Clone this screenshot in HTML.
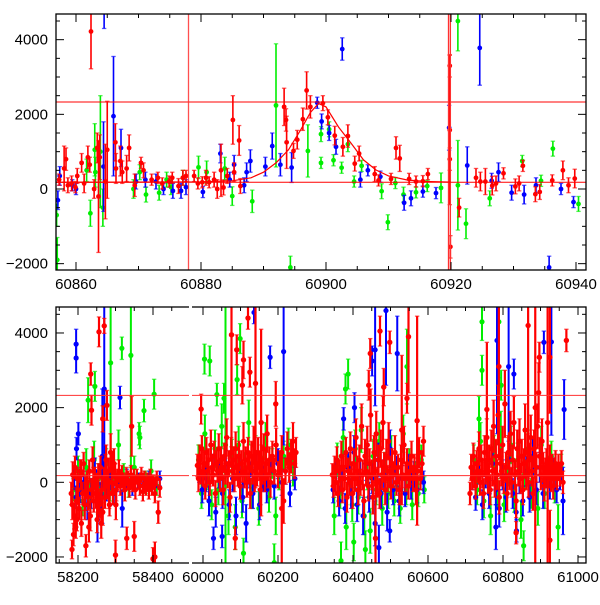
<!DOCTYPE html>
<html><head><meta charset="utf-8"><style>
html,body{margin:0;padding:0;background:#fff;}
svg text{font-family:"Liberation Sans",sans-serif;font-size:15px;fill:#000;}
</style></head><body>
<svg id="chart" width="600" height="600" viewBox="0 0 600 600" xmlns="http://www.w3.org/2000/svg">
<defs>
<clipPath id="clipTop"><rect x="56" y="14" width="530" height="256"/></clipPath>
<clipPath id="clipA"><rect x="56" y="307" width="133" height="256"/></clipPath>
<clipPath id="clipB"><rect x="192" y="307" width="394" height="256"/></clipPath>
</defs>
</svg>
<script>
// ---------------- data ----------------
const topTickX = [60860, 60880, 60900, 60920, 60940];
const tickY = [-2000, 0, 2000, 4000];
const botTickA = [58200, 58400];
const botTickB = [60000, 60200, 60400, 60600, 60800, 61000];
const refLevels = [2330, 180];
const vLines = [60878, 60919.6, 60919.9];
const curveMJD = [60856, 60880, 60885, 60888, 60890, 60892, 60894, 60896, 60897.5, 60898.8, 60900, 60902, 60904, 60906, 60908, 60910, 60913, 60916, 60920];
const curveVal = [180, 190, 220, 300, 450, 700, 1050, 1600, 2050, 2290, 2200, 1660, 1230, 780, 510, 350, 240, 200, 185];

const topRed = [[60857.3,250,150],[60858.1,550,600],[60858.4,800,300],[60858.7,100,200],[60859.3,150,200],[60859.9,50,150],[60860.2,350,200],[60860.9,700,250],[60861.3,150,250],[60861.9,850,300],[60862.2,650,200],[60862.4,4220,1000],[60862.9,0,250],[60863.4,1100,400],[60863.6,-200,1500],[60863.8,850,600],[60864.7,200,1000],[60865.0,1050,1300],[60866.3,1250,500],[60866.4,550,400],[60867.1,750,400],[60867.4,450,300],[60868.1,550,350],[60868.5,1100,350],[60869.4,100,300],[60870.4,700,150],[60870.8,500,200],[60872.1,250,150],[60873.1,300,150],[60873.8,150,150],[60874.9,200,150],[60875.4,300,150],[60876.4,80,200],[60877.1,300,200],[60877.6,350,150],[60878.9,350,150],[60879.5,150,150],[60880.2,180,150],[60880.8,300,200],[60881.3,180,150],[60882.1,250,200],[60882.6,0,250],[60883.2,500,700],[60883.6,40,200],[60884.2,350,200],[60885.1,1850,650],[60885.3,450,250],[60886.1,1300,400],[60886.3,80,200],[60893.3,2200,500],[60893.6,1850,300],[60893.7,1250,700],[60894.8,1020,200],[60895.4,1320,250],[60896.3,1870,300],[60896.9,2640,500],[60897.5,2200,300],[60899.5,2300,200],[60900.3,1920,200],[60901.4,1430,250],[60902.7,1130,250],[60903.5,1420,300],[60904.6,680,200],[60905.3,950,200],[60907.8,400,200],[60908.4,230,150],[60910.4,270,150],[60911.2,1100,300],[60911.8,820,350],[60913.3,270,150],[60914.4,200,150],[60915.5,210,150],[60916.3,400,150],[60919.8,3300,300],[60919.8,1580,2000],[60919.9,-1550,300],[60919.8,800,300],[60921.3,-500,250],[60924.0,300,250],[60924.7,200,250],[60925.5,200,350],[60926.6,90,250],[60927.2,150,200],[60928.4,420,150],[60930.3,70,200],[60930.9,150,200],[60931.5,620,150],[60933.5,-140,200],[60934.2,-80,200],[60936.2,230,150],[60937.9,500,250],[60938.8,100,200],[60939.8,280,250]];
const topBlue = [[60857.1,-300,250],[60857.4,350,250],[60859.4,100,150],[60860.0,0,150],[60864.4,600,1200],[60864.5,4800,500],[60866.0,1950,1600],[60867.2,1100,500],[60869.6,200,200],[60871.1,250,200],[60872.8,200,200],[60874.0,0,150],[60875.5,-50,200],[60876.8,-50,200],[60877.6,50,200],[60880.3,-80,150],[60883.1,950,250],[60884.6,250,200],[60885.3,650,250],[60886.9,100,200],[60887.3,450,250],[60887.9,750,300],[60890.3,600,250],[60891.4,1150,350],[60892.7,650,300],[60894.5,575,400],[60898.6,2310,150],[60899.3,1810,200],[60900.5,1500,200],[60901.6,1130,200],[60902.6,3750,300],[60905.5,250,200],[60906.7,500,150],[60908.7,330,150],[60912.5,-370,200],[60913.6,-250,200],[60915.5,-70,150],[60917.6,-110,150],[60919.7,1640,600],[60922.6,630,500],[60924.6,3780,1000],[60926.5,220,200],[60927.6,450,250],[60929.7,-100,200],[60931.7,-150,250],[60933.6,100,200],[60935.7,-2100,300],[60937.6,0,150],[60939.6,-350,150]];
const topGreen = [[60856.9,-700,300],[60857.0,-1900,600],[60861.7,500,300],[60862.3,-650,350],[60863.0,1050,700],[60863.1,450,400],[60863.9,1000,1500],[60864.3,-500,500],[60869.2,0,250],[60870.2,450,200],[60871.2,-150,200],[60873.3,-100,200],[60874.5,250,200],[60875.2,50,200],[60877.1,300,200],[60879.6,580,300],[60880.9,450,300],[60883.8,550,300],[60885.0,-190,250],[60888.2,-330,300],[60892.0,2240,1650],[60894.3,-2100,300],[60897.1,1020,700],[60899.2,1470,200],[60899.2,700,150],[60900.5,1600,200],[60901.2,770,150],[60902.5,570,150],[60903.5,1200,200],[60904.5,200,150],[60905.7,620,150],[60908.9,-60,200],[60909.9,-890,200],[60911.1,160,150],[60912.4,-150,200],[60914.4,-90,150],[60916.2,80,150],[60918.4,30,400],[60921.1,4500,800],[60921.1,100,1200],[60922.4,-930,400],[60926.2,-250,200],[60931.4,750,150],[60934.4,220,150],[60936.3,1080,200],[60940.4,-400,200]];

const botRed = [[58182,-300,300],[58184,-1800,250],[58186,200,350],[58188,-1400,300],[58190,-900,350],[58192,400,300],[58194,-1200,300],[58196,-500,350],[58198,100,300],[58200,-200,400],[58203,-700,300],[58206,300,300],[58209,-1100,350],[58212,-300,300],[58215,500,300],[58218,-600,400],[58221,-1700,300],[58224,0,300],[58227,-400,350],[58230,300,300],[58233,-900,400],[58236,-200,300],[58239,600,350],[58242,-500,300],[58245,100,300],[58248,-300,400],[58251,-1000,350],[58254,200,300],[58257,-600,350],[58260,400,300],[58263,-200,350],[58266,-800,350],[58269,100,300],[58272,-400,300],[58275,600,400],[58278,-100,350],[58281,300,350],[58284,-600,300],[58287,800,500],[58290,0,350],[58293,-300,300],[58296,500,400],[58299,200,300],[58302,-200,300],[58305,100,250],[58309,300,300],[58313,-100,250],[58317,200,250],[58321,0,250],[58325,-200,300],[58329,150,250],[58333,50,250],[58337,-150,250],[58341,200,250],[58345,-50,200],[58349,100,250],[58353,-200,250],[58357,150,200],[58361,0,200],[58365,-100,250],[58369,200,200],[58373,-250,250],[58377,100,200],[58381,-150,200],[58385,50,200],[58389,-200,250],[58393,150,200],[58397,-100,250],[58401,0,200],[58405,-300,250],[58410,100,200],[58414,-800,300],[58418,-150,250],
[58185,-600,400],[58197,-1000,300],[58208,200,400],[58219,-300,450],[58229,-1200,400],[58241,0,400],[58253,-400,450],[58262,-1100,400],[58273,300,450],[58283,-300,400],[58292,400,400],[58301,-600,400],
[58256,4030,400],[58270,4190,200],[58234,2900,300],[58236,1930,400],[58277,2060,400],[58266,1700,350],[58343,1500,800],[58300,-1950,400],[58330,-1500,300],[58350,-1450,400],[58400,-2050,300],[58405,-2000,400],
[59985,450,300],[59988,100,350],[59991,700,300],[59994,300,350],[59997,900,350],[60000,200,300],[60003,500,350],[60006,-100,350],[60009,800,400],[60012,300,350],[60015,600,300],[60018,0,350],[60021,1000,400],[60024,400,350],[60027,200,300],[60030,700,400],[60033,-300,350],[60036,500,350],[60039,300,300],[60042,900,400],[60045,100,350],[60048,600,350],[60051,400,300],[60054,-200,400],[60057,700,350],[60060,300,350],[60063,1200,500],[60066,200,350],[60069,500,350],[60072,-400,400],[60075,800,400],[60078,300,350],[60081,600,350],[60084,100,350],[60087,900,450],[60090,400,350],[60093,200,300],[60096,700,400],[60099,-100,350],[60102,500,350],[60105,300,300],[60108,1100,500],[60111,200,350],[60114,600,350],[60117,0,400],[60120,800,400],[60123,400,350],[60126,-300,400],[60129,700,400],[60132,300,350],[60135,1000,500],[60138,100,350],[60141,500,350],[60144,200,300],[60147,800,400],[60150,400,350],[60153,-200,400],[60156,600,400],[60159,300,350],[60162,900,400],[60165,100,350],[60168,500,350],[60171,1300,500],[60174,200,350],[60177,600,350],[60180,0,400],[60185,700,400],[60190,300,350],[60195,1000,450],[60200,200,350],[60205,500,350],[60210,800,450],[60215,-500,600],[60220,300,350],[60225,900,450],[60230,400,400],[60235,700,450],[60240,1100,500],[60244,500,400],[60248,800,400],
[59995,1960,400],[60076,3950,3000],[60090,3550,400],[60108,3280,500],[60105,2600,500],[60120,4400,300],[60125,2950,400],[60140,2650,2800],[60194,2100,600],[60086,-1500,300],[60155,1600,2500],[60210,-700,1500],
[60345,200,300],[60348,-100,300],[60351,400,300],[60354,0,350],[60357,600,350],[60360,-300,350],[60363,300,300],[60366,100,350],[60369,700,400],[60372,-200,350],[60375,400,350],[60378,100,300],[60381,800,400],[60384,-400,400],[60387,300,350],[60390,0,350],[60393,900,450],[60396,200,350],[60399,-300,400],[60402,500,400],[60405,100,350],[60408,1200,500],[60411,300,400],[60414,-200,400],[60417,600,400],[60420,0,350],[60423,1500,600],[60426,200,400],[60429,-500,450],[60432,700,450],[60435,300,400],[60438,1000,500],[60441,-100,400],[60444,500,400],[60447,1800,700],[60450,200,400],[60453,-400,450],[60456,800,450],[60459,300,400],[60462,1300,600],[60465,0,400],[60468,600,400],[60471,-300,400],[60474,900,500],[60477,200,400],[60480,1600,700],[60483,400,400],[60486,-200,400],[60489,700,450],[60492,100,350],[60495,1100,500],[60498,300,400],[60501,-100,350],[60504,500,400],[60508,200,350],[60512,800,450],[60516,0,350],[60520,400,350],[60524,-200,400],[60528,600,400],[60532,200,350],[60536,1000,500],[60540,100,350],[60544,500,400],[60548,-100,350],[60552,300,350],[60556,700,400],[60560,100,350],[60564,400,350],[60568,-200,400],[60572,300,350],[60576,800,400],[60580,100,300],[60584,500,350],[60588,1100,400],
[60446,3450,400],[60472,4050,400],[60498,3750,300],[60548,3900,1500],[60544,2250,400],[60442,2600,400],[60482,2550,500],[60571,1650,2800],[60460,-1500,1500],[60530,1400,2000],
[60712,-300,300],[60715,400,350],[60718,100,300],[60721,700,350],[60724,200,350],[60727,-100,350],[60730,500,350],[60733,300,300],[60736,900,450],[60739,0,350],[60742,600,400],[60745,200,350],[60748,-300,400],[60751,800,450],[60754,300,350],[60757,1200,500],[60760,100,400],[60763,600,400],[60766,-200,400],[60769,900,500],[60772,300,400],[60775,1500,700],[60778,0,400],[60781,700,450],[60784,200,400],[60787,1800,800],[60790,-400,450],[60793,500,400],[60796,300,400],[60799,1000,500],[60802,100,400],[60805,2100,900],[60808,400,400],[60811,-300,450],[60814,800,450],[60817,200,400],[60820,1300,600],[60823,0,400],[60826,600,400],[60829,1600,700],[60832,200,400],[60835,-500,450],[60838,900,500],[60841,300,400],[60844,1100,600],[60847,100,400],[60850,700,450],[60853,-200,400],[60856,500,400],[60859,1400,700],[60862,200,400],[60865,800,500],[60868,0,400],[60871,600,450],[60874,1200,600],[60877,300,400],[60880,-300,450],[60883,900,500],[60886,2000,4500],[60889,400,400],[60892,1500,600],[60895,2400,800],[60898,700,500],[60901,200,400],[60904,1100,600],[60907,400,400],[60910,-100,400],[60913,300,350],[60916,500,400],[60919,1600,4000],[60922,200,350],[60925,600,400],[60928,100,350],[60931,400,350],[60934,-100,350],[60937,300,350],[60940,500,350],[60944,100,300],[60948,400,350],[60952,200,300],[60956,500,350],[60960,0,300],
[60789,3100,2500],[60867,4200,3500],[60897,3350,400],[60925,3350,1500],[60925,-1550,800],[60969,3800,300],[60757,1950,1800],[60835,-1350,300]];
const botBlue = [[58190,100,300],[58195,-400,300],[58205,-200,350],[58215,0,300],[58225,-600,400],[58235,-300,400],[58245,300,350],[58252,-1000,600],[58260,-400,400],[58268,200,350],[58276,-200,300],[58285,100,300],[58295,-300,300],[58305,0,250],[58318,-700,500],[58330,100,250],[58345,-100,250],[58360,50,200],[58375,-50,200],[58390,100,200],[58405,-100,200],[58418,100,200],
[58195,3330,400],[58195,3700,400],[58201,1300,300],[58196,900,300],[58312,2270,300],[58265,700,1800],[58270,2500,2500],
[59990,300,300],[59998,-200,350],[60008,100,350],[60016,-500,400],[60025,400,350],[60034,-800,400],[60043,200,350],[60052,-300,400],[60061,500,350],[60070,-600,400],[60079,100,350],[60088,-900,500],[60097,300,350],[60106,-400,400],[60115,-1100,500],[60124,200,350],[60133,-300,400],[60142,400,350],[60151,-600,400],[60160,100,350],[60170,-200,350],[60180,300,350],[60190,-100,350],[60200,500,400],[60210,0,350],[60220,300,350],[60232,-300,350],[60245,100,300],
[60028,-1500,300],[60051,-1450,300],[60136,4550,300],[60179,3350,300],[60215,3500,2500],
[60347,-200,350],[60355,300,350],[60363,-500,400],[60371,100,350],[60379,-700,400],[60387,400,400],[60395,-300,400],[60403,800,450],[60411,-600,450],[60419,200,400],[60427,-900,500],[60435,500,450],[60443,-400,400],[60451,100,400],[60459,-1100,600],[60467,600,450],[60475,-300,400],[60483,200,400],[60491,-800,500],[60499,900,500],[60507,-200,400],[60515,300,400],[60523,-500,400],[60531,100,350],[60539,-300,350],[60547,400,350],[60555,-100,350],[60563,200,350],[60571,-200,350],[60580,100,300],[60588,0,300],
[60451,3250,400],[60459,3550,1500],[60488,4600,2000],[60518,3450,1000],[60375,1700,300],[60404,2000,400],[60469,-1750,600],[60498,-1300,300],
[60718,100,300],[60727,-400,350],[60736,300,350],[60745,-600,400],[60754,200,350],[60763,-300,400],[60772,500,450],[60781,-200,400],[60790,-700,500],[60799,200,400],[60808,-400,400],[60817,600,450],[60826,-300,400],[60835,-800,500],[60844,100,400],[60853,-500,400],[60862,300,400],[60871,-400,400],[60880,700,500],[60889,-200,400],[60898,400,400],[60907,-300,400],[60916,200,350],[60925,-100,350],[60934,300,350],[60943,-200,350],[60952,100,300],[60960,-500,900],
[60784,3800,2500],[60815,3100,2000],[60829,2900,400],[60909,3750,300],[60929,3760,2500],[60963,1950,800],[60781,-1200,600],[60836,-1300,300]];
const botGreen = [[58188,-200,300],[58200,300,400],[58212,-500,400],[58222,400,500],[58232,-300,400],[58243,600,500],[58255,100,400],[58265,-300,400],[58275,500,400],[58285,-200,300],[58295,300,300],[58308,1000,400],[58322,200,300],[58335,-100,300],[58350,400,300],[58365,1200,300],[58380,0,300],[58395,300,300],[58410,-100,250],
[58227,2200,600],[58245,2570,400],[58317,3590,300],[58341,3400,3000],[58376,1920,300],[58403,2360,400],[58363,1300,300],[58287,3200,3300],
[59988,600,400],[59996,-300,400],[60005,1300,500],[60014,200,400],[60023,-600,400],[60032,900,500],[60041,-200,400],[60050,1500,600],[60059,300,400],[60068,-900,500],[60077,700,450],[60086,-1200,600],[60095,1000,500],[60104,-500,450],[60113,400,400],[60122,1600,600],[60131,-300,400],[60140,800,450],[60149,-700,450],[60158,300,400],[60167,1100,500],[60176,-400,400],[60185,500,400],[60194,-900,500],[60203,200,400],[60215,700,400],[60228,1000,450],[60240,300,400],
[60004,3300,400],[60018,3250,400],[60037,2350,300],[60056,2250,400],[60091,2750,400],[60099,3850,400],[60108,-1900,400],[60190,-2150,500],[60060,1000,3700],
[60350,-900,500],[60358,600,450],[60366,-300,400],[60374,1200,500],[60382,-1200,600],[60390,300,400],[60398,-600,450],[60406,900,500],[60414,-400,450],[60422,1400,600],[60430,-900,500],[60438,200,400],[60446,-1300,600],[60454,700,450],[60462,-200,400],[60470,1100,500],[60478,-700,450],[60486,400,400],[60494,-300,400],[60502,800,450],[60510,-500,400],[60518,200,400],[60526,-700,400],[60534,1300,500],[60542,-200,400],[60550,500,400],[60558,-600,400],[60566,200,350],[60574,-300,350],[60582,600,400],[60590,-200,350],
[60387,2900,400],[60380,2500,400],[60368,-2100,500],[60402,-1600,500],[60433,-1800,500],[60544,3100,1000],
[60722,600,400],[60731,-200,400],[60740,1100,500],[60749,-500,450],[60758,400,400],[60767,-900,500],[60776,800,450],[60785,-300,400],[60794,1300,600],[60803,-600,450],[60812,300,400],[60821,1000,500],[60830,-400,400],[60839,600,450],[60848,-1000,500],[60857,200,400],[60866,900,500],[60875,-300,400],[60884,500,400],[60893,-700,450],[60902,1000,500],[60911,-300,400],[60920,300,400],[60929,700,400],[60938,-200,350],[60947,-1200,600],[60955,400,350],
[60744,4300,500],[60744,3000,400],[60736,1700,600],[60789,4300,1500],[60795,2600,400],[60855,-1700,400]];

// ---------------- axes ----------------
const NS = 'http://www.w3.org/2000/svg';
const svg = document.getElementById('chart');
function el(tag, attrs, parent) {
  const e = document.createElementNS(NS, tag);
  for (const k in attrs) e.setAttribute(k, attrs[k]);
  (parent || svg).appendChild(e);
  return e;
}
const yTop = v => 189 - v * 0.03733;
const yBot = v => 482.3 - v * 0.03733;
const xTop = m => 56 + (m - 60856.8) * 6.25;
const xBot = m => m < 59000 ? 78 + (m - 58200) * 0.375 : 203 + (m - 60000) * 0.375;

function drawSeries(data, color, xf, yf, g, nm, w, r) {
  data.forEach(d => {
    const x = xf(d[0]), y = yf(d[1]), y1 = yf(d[1] + d[2]), y2 = yf(d[1] - d[2]);
    const grp = el('g', {}, g);
    
    
    el('line', {x1:x, x2:x, y1:y1, y2:y2, stroke:color, 'stroke-width':w}, grp);
    el('line', {x1:x-2.2, x2:x+2.2, y1:y1, y2:y1, stroke:color, 'stroke-width':1.3, 'stroke-opacity':0.65}, grp);
    el('line', {x1:x-2.2, x2:x+2.2, y1:y2, y2:y2, stroke:color, 'stroke-width':1.3, 'stroke-opacity':0.65}, grp);
    el('circle', {cx:x, cy:y, r:r, fill:color}, grp);
  });
}

// top panel
const gTop = el('g', {'clip-path':'url(#clipTop)'});


drawSeries(topGreen, '#00ee00', xTop, yTop, gTop, 'green-point', 1.6, 2.4);
drawSeries(topBlue, '#0000ff', xTop, yTop, gTop, 'blue-point', 1.6, 2.4);
drawSeries(topRed, '#ff0000', xTop, yTop, gTop, 'red-point', 1.6, 2.4);
refLevels.forEach(v => {
  const l = el('line', {x1:56, x2:586, y1:yTop(v), y2:yTop(v), stroke:'#ff0000', 'stroke-width':1}, gTop);
  
  
});
vLines.forEach((m, i) => {
  const l = el('line', {x1:xTop(m), x2:xTop(m), y1:14, y2:270, stroke:'#ff3030', 'stroke-width':1.3, 'stroke-opacity':i === 0 ? 0.85 : 1}, gTop);
  
  
});
let pts = curveMJD.map((m, i) => xTop(m).toFixed(1) + ',' + yTop(curveVal[i]).toFixed(1)).join(' ');
const curve = el('polyline', {points:pts, fill:'none', stroke:'#ff0000', 'stroke-width':1.2}, gTop);



// bottom panel
const gA = el('g', {'clip-path':'url(#clipA)'});


const gB = el('g', {'clip-path':'url(#clipB)'});


[gA, gB].forEach(g => {
  drawSeries(botGreen, '#00ee00', xBot, yBot, g, 'green-point', 2, 2.6);
  drawSeries(botBlue, '#0000ff', xBot, yBot, g, 'blue-point', 2, 2.6);
  drawSeries(botRed, '#ff0000', xBot, yBot, g, 'red-point', 2.2, 2.7);
  refLevels.forEach(v => {
    const l = el('line', {x1:56, x2:586, y1:yBot(v), y2:yBot(v), stroke:'#ff3030', 'stroke-width':1}, g);
    
    
  });
});

// frames & ticks
function frame(x0, x1, y0, y1, nm) {
  const r = el('rect', {x:x0, y:y0, width:x1-x0, height:y1-y0, fill:'none', stroke:'#000', 'stroke-width':1.3});
  
  
}
frame(56, 586, 14, 270, 'top-panel-frame');
frame(56, 586, 307, 563, 'bottom-panel-frame');
const gap = el('rect', {x:189, y:305, width:3, height:260, fill:'#fff'});



function yTicks(yf, y0, y1) {
  for (let v = -2000; v <= 4500; v += 500) {
    const y = yf(v); if (y < y0 || y > y1) continue;
    const len = v % 2000 === 0 ? 8 : 4;
    el('line', {x1:56, x2:56+len, y1:y, y2:y, stroke:'#000', 'stroke-width':1});
    el('line', {x1:586, x2:586-len, y1:y, y2:y, stroke:'#000', 'stroke-width':1});
  }
  tickY.forEach(v => {
    const t = el('text', {x:48, y:yf(v)+5, 'text-anchor':'end'});
    t.textContent = (v < 0 ? '\u2212' : '') + Math.abs(v);
    
    
  });
}
yTicks(yTop, 14, 270);
yTicks(yBot, 307, 563);

for (let m = 60860; m <= 60940; m += 5) {
  const x = xTop(m); const len = m % 20 === 0 ? 8 : 4;
  el('line', {x1:x, x2:x, y1:270, y2:270-len, stroke:'#000', 'stroke-width':1});
  el('line', {x1:x, x2:x, y1:14, y2:14+len, stroke:'#000', 'stroke-width':1});
}
topTickX.forEach(m => {
  const t = el('text', {x:xTop(m), y:289, 'text-anchor':'middle'});
  t.textContent = m;
  
  
});
function botTicks(m0, m1, xa, xb) {
  for (let m = m0; m <= m1; m += 50) {
    const x = xBot(m); if (x < xa || x > xb) continue;
    const len = m % 200 === 0 ? 8 : 4;
    el('line', {x1:x, x2:x, y1:563, y2:563-len, stroke:'#000', 'stroke-width':1});
    el('line', {x1:x, x2:x, y1:307, y2:307+len, stroke:'#000', 'stroke-width':1});
  }
}
botTicks(58150, 58550, 57, 188);
botTicks(60000, 61000, 193, 585);
botTickA.concat(botTickB).forEach(m => {
  const t = el('text', {x:xBot(m), y:582, 'text-anchor':'middle'});
  t.textContent = m;
  
  
});
</script>
</body></html>
